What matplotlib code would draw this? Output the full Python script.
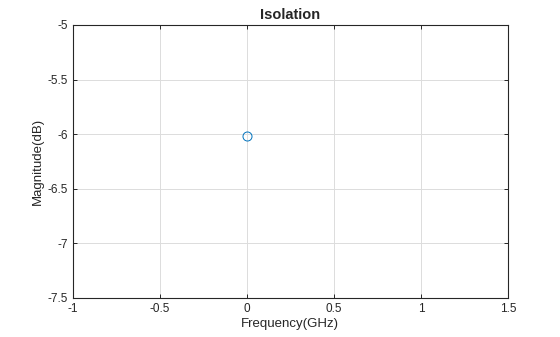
import matplotlib
matplotlib.use("Agg")
import matplotlib.pyplot as plt

# Du lieu: mot diem duy nhat
freq_ghz = [0.0]
mag_db = [-6.02]

x_ticks = [-1, -0.5, 0, 0.5, 1, 1.5]
y_ticks = [-7.5, -7, -6.5, -6, -5.5, -5]

plt.rcParams['font.family'] = ['Liberation Sans', 'DejaVu Sans']

fig = plt.figure(figsize=(5.6, 3.37), dpi=100)
ax = fig.add_axes([0.130, 0.116, 0.777, 0.810])

ax.plot(freq_ghz, mag_db, 'o', mfc='none', mec='#0072BD', ms=6.5, mew=0.7)

ax.set_xlim(-1, 1.5)
ax.set_ylim(-7.5, -5)
ax.set_xticks(x_ticks)
ax.set_yticks(y_ticks)
ax.set_xticklabels([f"{v:g}" for v in x_ticks])
ax.set_yticklabels([f"{v:g}" for v in y_ticks])
ax.grid(True, color='#dcdcdc', lw=0.7)
ax.set_axisbelow(True)
ax.tick_params(direction='in', length=3, width=0.7, labelsize=8.5,
               top=True, right=True, colors='#262626')
for s in ax.spines.values():
    s.set_linewidth(0.8)
    s.set_color('#262626')

ax.set_xlabel("Frequency(GHz)", fontsize=9.5, color='#262626', labelpad=2)
ax.set_ylabel("Magnitude(dB)", fontsize=9.5, color='#262626', labelpad=3)
ax.set_title("Isolation", fontsize=10.5, fontweight='bold', color='#262626', pad=4)

fig.savefig("out.png", dpi=100)
